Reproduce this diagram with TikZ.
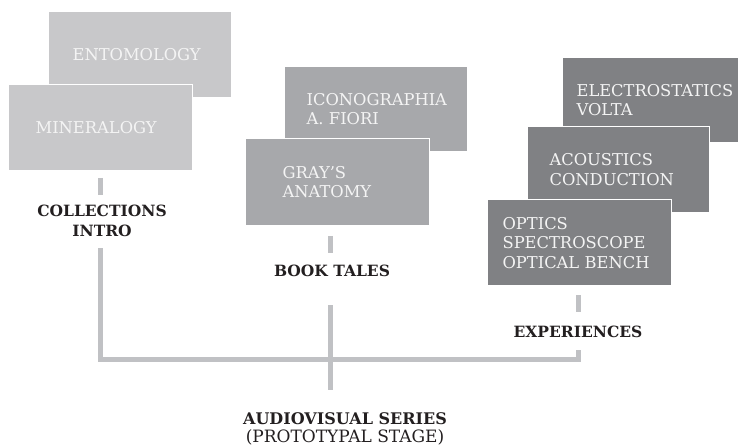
\documentclass[tikz,border=0pt]{standalone}
\usepackage{fontspec}
\setmainfont{DejaVu Serif}
\definecolor{lightbox}{HTML}{C8C8CA}
\definecolor{midbox}{HTML}{A7A8AB}
\definecolor{darkbox}{HTML}{808184}
\definecolor{linegray}{HTML}{C0C1C4}
\definecolor{ink}{HTML}{231F20}
\definecolor{boxtext}{HTML}{F4F4F4}
\begin{document}
\begin{tikzpicture}[x=1pt,y=-1pt,
  box/.style={draw=white, line width=1.2pt, anchor=north west, inner ysep=0pt,
    align=left, text=boxtext, font=\fontsize{16.3}{19.5}\selectfont},
  lbl/.style={align=center, text=ink, inner sep=0pt, font=\fontsize{15.5}{20}\selectfont\bfseries},
  conn/.style={draw=linegray, line width=5pt, line join=miter}]
\useasboundingbox (0,0) rectangle (738,446);
% collections
\node[box, fill=lightbox, minimum height=86pt, text width=135pt, inner xsep=24pt] (ento) at (48,11) {ENTOMOLOGY};
\node[box, fill=lightbox, minimum height=86pt, text width=130pt, inner xsep=27pt] (mine) at (8,84) {MINERALOGY};
% books
\node[box, fill=midbox, minimum height=85pt, text width=139pt, inner xsep=22pt] (icono) at (284,66) {ICONOGRAPHIA\\A. FIORI};
\node[box, fill=midbox, minimum height=87pt, text width=110pt, inner xsep=37pt] (gray) at (245,138) {GRAY’S\\ANATOMY};
% experiences
\node[box, fill=darkbox, minimum height=85pt, text width=162pt, inner xsep=14pt] (electro) at (562,57) {ELECTROSTATICS\\VOLTA};
\node[box, fill=darkbox, minimum height=86pt, text width=138pt, inner xsep=22pt] (acou) at (527,126) {ACOUSTICS\\CONDUCTION};
\node[box, fill=darkbox, minimum height=86pt, text width=154pt, inner xsep=15pt] (optics) at (487,199) {OPTICS\\SPECTROSCOPE\\OPTICAL BENCH};
% labels
\node[lbl] (coll) at (102,221) {COLLECTIONS\\INTRO};
\node[lbl] (book) at (332,270.5) {BOOK TALES};
\node[lbl] (exp) at (578,332) {EXPERIENCES};
\node[align=center, text=ink, inner sep=0pt, font=\fontsize{16}{18}\selectfont] (audio) at (345,429) {\textbf{AUDIOVISUAL SERIES}\\{\fontsize{17}{18}\selectfont(PROTOTYPAL STAGE)}};
% connector coordinates
\coordinate (s1a) at (100,178); \coordinate (s1b) at (100,195);
\coordinate (s2a) at (330.5,236); \coordinate (s2b) at (330.5,253);
\coordinate (s3a) at (578.5,295); \coordinate (s3b) at (578.5,312);
\coordinate (t1) at (100,248); \coordinate (j1) at (100,359.5);
\coordinate (j3) at (578.5,359.5); \coordinate (t3) at (578.5,350);
\coordinate (t2) at (330.5,305); \coordinate (b2) at (330.5,390);
\draw[conn] (s1a) -- (s1b);
\draw[conn] (s2a) -- (s2b);
\draw[conn] (s3a) -- (s3b);
\draw[conn] (t1) -- (j1) -- (j3) -- (t3);
\draw[conn] (t2) -- (b2);
\end{tikzpicture}
\end{document}
